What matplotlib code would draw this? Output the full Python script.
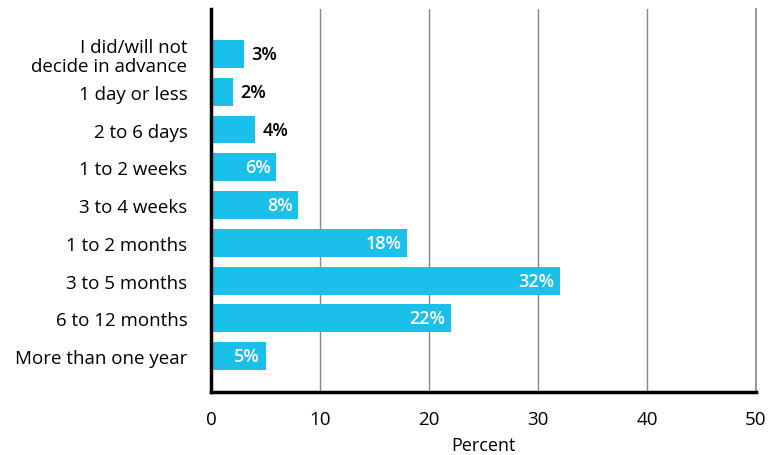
import numpy as np
import matplotlib.pyplot as plt

# Survey: how far in advance was the decision made
categories = ['I did/will not\ndecide in advance', '1 day or less', '2 to 6 days',
              '1 to 2 weeks', '3 to 4 weeks', '1 to 2 months', '3 to 5 months',
              '6 to 12 months', 'More than one year']
percent = [3, 2, 4, 6, 8, 18, 32, 22, 5]
xticks = [0, 10, 20, 30, 40, 50]

BAR_COLOR = '#1BC0EA'
plt.rcParams['font.family'] = ['Open Sans', 'DejaVu Sans']


def main():
    fig = plt.figure(figsize=(7.69, 4.56), dpi=100)
    ax = fig.add_axes([0.2744, 0.1382, 0.7086, 0.8398])

    y = np.arange(len(categories))
    ax.barh(y, percent, height=0.74, color=BAR_COLOR, zorder=3)

    # Etiquettes de valeur : dedans en blanc, dehors en gras noir
    for yi, v in zip(y, percent):
        if v >= 5:
            ax.text(v - 0.5, yi, f'{v}%', ha='right', va='center',
                    color='white', fontsize=13, fontweight='semibold', zorder=4)
        else:
            ax.text(v + 0.7, yi, f'{v}%', ha='left', va='center',
                    color='black', fontsize=13, fontweight='semibold', zorder=4)

    ax.set_xlim(0, 50)
    ax.set_ylim(8.95, -1.19)
    ax.set_xticks(xticks)
    ax.set_yticks(y)
    ax.set_yticklabels(categories, fontsize=13.5, linespacing=1.1)
    ax.tick_params(axis='x', length=0, labelsize=13.5, pad=13)
    ax.tick_params(axis='y', length=0, pad=17)

    ax.xaxis.grid(True, color='#888888', linewidth=1, zorder=0)
    ax.set_axisbelow(True)

    ax.spines['top'].set_visible(False)
    ax.spines['right'].set_visible(False)
    for s in ['left', 'bottom']:
        ax.spines[s].set_linewidth(2.5)
        ax.spines[s].set_color('black')
        ax.spines[s].set_zorder(5)

    # la ligne à 50, tracée à part pour qu'elle ne soit pas coupée au bord
    ax.plot([50, 50], [8.95, -1.19], color='#888888', linewidth=1.2,
            clip_on=False, zorder=1)

    ax.set_xlabel('Percent', fontsize=13, labelpad=6)

    plt.savefig('out.png', dpi=100)


if __name__ == "__main__":
    main()
